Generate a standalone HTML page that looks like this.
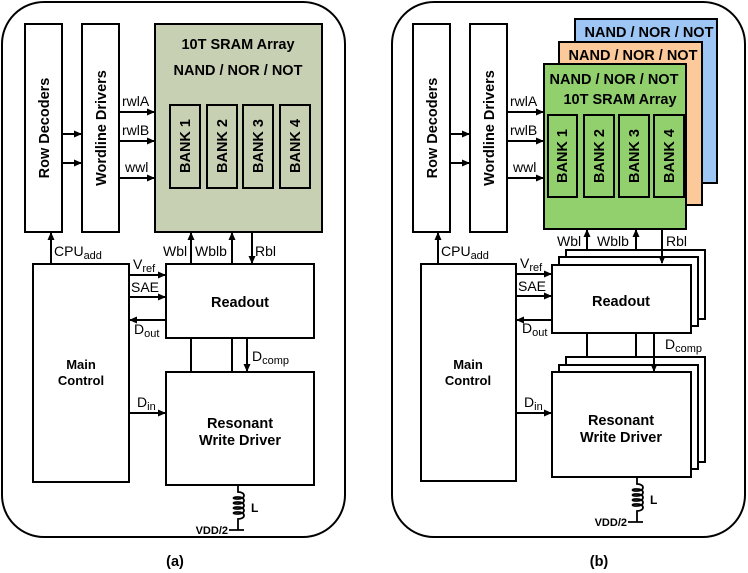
<!DOCTYPE html>
<html><head><meta charset="utf-8"><style>
html,body{margin:0;padding:0;background:#fff;}
svg{display:block;}
text{font-family:"Liberation Sans",Arial,sans-serif;fill:#000;}
.b{font-weight:bold;font-size:14.5px;}
.s{font-size:14px;}
.sub{font-size:11px;}
.m{font-weight:bold;font-size:13px;}
</style></head><body>
<svg width="748" height="573" viewBox="0 0 748 573" xmlns="http://www.w3.org/2000/svg">
<defs>
<marker id="ar" markerWidth="8" markerHeight="8" refX="7" refY="4" orient="auto" markerUnits="userSpaceOnUse">
<path d="M0,0.5 L8,4 L0,7.5 z" fill="#000"/></marker>
</defs>
<g stroke="#000" stroke-width="2" fill="none">
<rect x="2" y="2" width="343" height="535" rx="42"/>
<rect x="25" y="24" width="37" height="208" fill="#fff"/>
<rect x="82" y="24" width="37" height="208" fill="#fff"/>
<rect x="155" y="24" width="167" height="208" fill="#c8d0b4"/>
<rect x="170" y="105" width="30" height="83"/>
<rect x="207" y="105" width="30" height="83"/>
<rect x="243" y="105" width="30" height="83"/>
<rect x="280" y="105" width="30" height="83"/>
<line x1="62" y1="134" x2="81" y2="134" marker-end="url(#ar)"/>
<line x1="62" y1="163" x2="81" y2="163" marker-end="url(#ar)"/>
<line x1="119" y1="112" x2="154" y2="112" marker-end="url(#ar)"/>
<line x1="119" y1="141" x2="154" y2="141" marker-end="url(#ar)"/>
<line x1="119" y1="178" x2="154" y2="178" marker-end="url(#ar)"/>
<line x1="51" y1="264" x2="51" y2="233" marker-end="url(#ar)"/>
<rect x="33" y="264" width="96" height="218"/>
<rect x="166" y="264" width="148" height="74"/>
<rect x="166" y="372" width="148" height="113"/>
<line x1="191" y1="264" x2="191" y2="233" marker-end="url(#ar)"/>
<line x1="232" y1="264" x2="232" y2="233" marker-end="url(#ar)"/>
<line x1="252" y1="232" x2="252" y2="263" marker-end="url(#ar)"/>
<line x1="129" y1="275" x2="165" y2="275" marker-end="url(#ar)"/>
<line x1="129" y1="297" x2="165" y2="297" marker-end="url(#ar)"/>
<line x1="166" y1="320" x2="130" y2="320" marker-end="url(#ar)"/>
<line x1="191" y1="338" x2="191" y2="372"/>
<line x1="232" y1="338" x2="232" y2="372"/>
<line x1="247" y1="338" x2="247" y2="371" marker-end="url(#ar)"/>
<line x1="129" y1="413" x2="165" y2="413" marker-end="url(#ar)"/>
<rect x="392" y="2" width="353" height="535" rx="42"/>
<rect x="413" y="24" width="37" height="208" fill="#fff"/>
<rect x="470" y="24" width="37" height="208" fill="#fff"/>
<rect x="575" y="19" width="142" height="164" fill="#9dc6f5"/>
<rect x="559" y="42" width="143" height="163" fill="#fbc99a"/>
<rect x="544" y="64" width="142" height="165" fill="#92d06e"/>
<rect x="548" y="115" width="29" height="82"/>
<rect x="584" y="115" width="30" height="82"/>
<rect x="619" y="115" width="30" height="82"/>
<rect x="654" y="115" width="30" height="82"/>
<line x1="450" y1="134" x2="469" y2="134" marker-end="url(#ar)"/>
<line x1="450" y1="163" x2="469" y2="163" marker-end="url(#ar)"/>
<line x1="507" y1="112" x2="543" y2="112" marker-end="url(#ar)"/>
<line x1="507" y1="141" x2="543" y2="141" marker-end="url(#ar)"/>
<line x1="507" y1="178" x2="543" y2="178" marker-end="url(#ar)"/>
<line x1="438" y1="264" x2="438" y2="233" marker-end="url(#ar)"/>
<rect x="421" y="264" width="95" height="217"/>
<rect x="566" y="250" width="139" height="69" fill="#fff"/>
<rect x="559" y="257" width="139" height="69" fill="#fff"/>
<rect x="552" y="265" width="139" height="68" fill="#fff"/>
<rect x="566" y="357" width="139" height="105" fill="#fff"/>
<rect x="559" y="365" width="139" height="104" fill="#fff"/>
<rect x="552" y="372" width="139" height="105" fill="#fff"/>
<line x1="587" y1="250" x2="587" y2="230" marker-end="url(#ar)"/>
<line x1="636" y1="250" x2="636" y2="230" marker-end="url(#ar)"/>
<line x1="662" y1="229" x2="662" y2="263" marker-end="url(#ar)"/>
<line x1="516" y1="274" x2="551" y2="274" marker-end="url(#ar)"/>
<line x1="516" y1="296" x2="551" y2="296" marker-end="url(#ar)"/>
<line x1="552" y1="320" x2="517" y2="320" marker-end="url(#ar)"/>
<line x1="587" y1="333" x2="587" y2="357"/>
<line x1="636" y1="333" x2="636" y2="357"/>
<line x1="654" y1="333" x2="654" y2="371" marker-end="url(#ar)"/>
<line x1="516" y1="413" x2="551" y2="413" marker-end="url(#ar)"/>
</g>
<g stroke="#000" stroke-width="1.8" fill="none">
<path d="M238,485 V492 c8,0 8,7 0,7 c-6,0 -6,-2 0,-2 c8,0 8,7 0,7 c-6,0 -6,-2 0,-2 c8,0 8,7 0,7 c-6,0 -6,-2 0,-2 c8,0 8,7 0,7 c-6,0 -6,-2 0,-2 c8,0 8,7 0,7 V530 M229,530 H244"/>
<path d="M637,477 V484 c8,0 8,7 0,7 c-6,0 -6,-2 0,-2 c8,0 8,7 0,7 c-6,0 -6,-2 0,-2 c8,0 8,7 0,7 c-6,0 -6,-2 0,-2 c8,0 8,7 0,7 c-6,0 -6,-2 0,-2 c8,0 8,7 0,7 V522 M628,522 H643"/>
</g>
<text class="b" x="49" y="128" transform="rotate(-90 49 128)" text-anchor="middle">Row Decoders</text>
<text class="b" x="106" y="128" transform="rotate(-90 106 128)" text-anchor="middle">Wordline Drivers</text>
<text class="b" x="437" y="128" transform="rotate(-90 437 128)" text-anchor="middle">Row Decoders</text>
<text class="b" x="494" y="128" transform="rotate(-90 494 128)" text-anchor="middle">Wordline Drivers</text>
<text class="b" x="238" y="49" text-anchor="middle">10T SRAM Array</text>
<text class="b" x="238" y="75" text-anchor="middle">NAND / NOR / NOT</text>
<text class="b" x="190" y="146" transform="rotate(-90 190 146)" text-anchor="middle">BANK 1</text>
<text class="b" x="227" y="146" transform="rotate(-90 227 146)" text-anchor="middle">BANK 2</text>
<text class="b" x="263" y="146" transform="rotate(-90 263 146)" text-anchor="middle">BANK 3</text>
<text class="b" x="300" y="146" transform="rotate(-90 300 146)" text-anchor="middle">BANK 4</text>
<text class="s" x="122" y="106">rwlA</text>
<text class="s" x="122" y="135">rwlB</text>
<text class="s" x="125" y="172">wwl</text>
<text class="s" x="54" y="256">CPU<tspan class="sub" dy="3">add</tspan></text>
<text class="s" x="163" y="256">Wbl</text>
<text class="s" x="195" y="256">Wblb</text>
<text class="s" x="255" y="256">Rbl</text>
<text class="s" x="133" y="269">V<tspan class="sub" dy="3">ref</tspan></text>
<text class="s" x="131" y="292">SAE</text>
<text class="s" x="134" y="334">D<tspan class="sub" dy="3">out</tspan></text>
<text class="s" x="252" y="361">D<tspan class="sub" dy="3">comp</tspan></text>
<text class="s" x="137" y="407">D<tspan class="sub" dy="3">in</tspan></text>
<text class="b" x="240" y="307" text-anchor="middle">Readout</text>
<text class="m" x="81" y="369" text-anchor="middle">Main</text>
<text class="m" x="81" y="385" text-anchor="middle">Control</text>
<text class="b" x="240" y="428" text-anchor="middle">Resonant</text>
<text class="b" x="240" y="445" text-anchor="middle">Write Driver</text>
<text class="b" x="251" y="512" style="font-size:12px">L</text>
<text class="b" x="228" y="534" text-anchor="end" style="font-size:11px">VDD/2</text>
<text class="b" x="175" y="566" text-anchor="middle">(a)</text>
<text class="b" x="649" y="37" text-anchor="middle">NAND / NOR / NOT</text>
<text class="b" x="633" y="60" text-anchor="middle">NAND / NOR / NOT</text>
<text class="b" x="614" y="84" text-anchor="middle">NAND / NOR / NOT</text>
<text class="b" x="620" y="104" text-anchor="middle">10T SRAM Array</text>
<text class="b" x="567" y="156" transform="rotate(-90 567 156)" text-anchor="middle">BANK 1</text>
<text class="b" x="604" y="156" transform="rotate(-90 604 156)" text-anchor="middle">BANK 2</text>
<text class="b" x="639" y="156" transform="rotate(-90 639 156)" text-anchor="middle">BANK 3</text>
<text class="b" x="674" y="156" transform="rotate(-90 674 156)" text-anchor="middle">BANK 4</text>
<text class="s" x="510" y="106">rwlA</text>
<text class="s" x="510" y="135">rwlB</text>
<text class="s" x="513" y="172">wwl</text>
<text class="s" x="441" y="256">CPU<tspan class="sub" dy="3">add</tspan></text>
<text class="s" x="557" y="246">Wbl</text>
<text class="s" x="597" y="246">Wblb</text>
<text class="s" x="666" y="246">Rbl</text>
<text class="s" x="520" y="268">V<tspan class="sub" dy="3">ref</tspan></text>
<text class="s" x="518" y="291">SAE</text>
<text class="s" x="522" y="333">D<tspan class="sub" dy="3">out</tspan></text>
<text class="s" x="665" y="349">D<tspan class="sub" dy="3">comp</tspan></text>
<text class="s" x="524" y="407">D<tspan class="sub" dy="3">in</tspan></text>
<text class="b" x="621" y="306" text-anchor="middle">Readout</text>
<text class="m" x="468" y="369" text-anchor="middle">Main</text>
<text class="m" x="468" y="385" text-anchor="middle">Control</text>
<text class="b" x="621" y="425" text-anchor="middle">Resonant</text>
<text class="b" x="621" y="442" text-anchor="middle">Write Driver</text>
<text class="b" x="650" y="504" style="font-size:12px">L</text>
<text class="b" x="627" y="526" text-anchor="end" style="font-size:11px">VDD/2</text>
<text class="b" x="599" y="566" text-anchor="middle">(b)</text>
</svg>
</body></html>
